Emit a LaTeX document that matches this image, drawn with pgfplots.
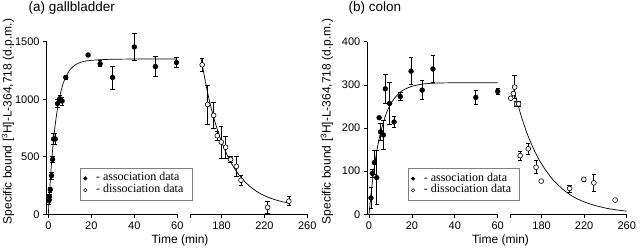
\documentclass[border=0pt]{standalone}
\usepackage{pgfplots}
\pgfplotsset{compat=1.18}
\usepackage{fontspec}
\setmainfont{Liberation Sans}
\newfontfamily\legendfont{Liberation Serif}

\pgfplotsset{
  seg/.style={
    scale only axis, height=172.5pt, clip=false, ymin=0,
    anchor=south west,
    tick align=outside, major tick length=3.5pt,
    tick style={line width=0.8pt, black},
    axis line style={line width=0.8pt, black},
    ticklabel style={font=\fontsize{11}{13}\selectfont},
    /pgf/number format/assume math mode=true,
    /pgf/number format/1000 sep={},
    scaled ticks=false,
  },
  assoc/.style={only marks, mark=*, mark size=2.4pt, black,
    mark options={fill=black, line width=0.5pt},
    error bars/.cd, y dir=both, y explicit,
    error bar style={line width=0.7pt, black},
    error mark options={rotate=90, mark size=2.2pt, line width=0.7pt, black},
    /pgfplots/.cd},
  dissoc/.style={only marks, mark=*, mark size=2.4pt, black,
    mark options={fill=white, draw=black, line width=0.6pt},
    error bars/.cd, y dir=both, y explicit,
    error bar style={line width=0.7pt, black},
    error mark options={rotate=90, mark size=2.2pt, line width=0.7pt, black},
    /pgfplots/.cd},
  fit/.style={no marks, smooth, black, line width=0.7pt},
  leg/.style={
    legend style={draw=gray, line width=0.5pt, font=\legendfont\fontsize{12}{12}\selectfont,
      inner xsep=3.4pt, inner ysep=4.5pt, column sep=9pt, row sep=0pt,
      nodes={inner sep=0pt, text height=8.2pt, text depth=3.5pt},
      cells={anchor=west}},
    legend cell align=left,
    legend image code/.code={\draw[##1] plot coordinates {(0cm,0cm)};},
  },
}

\begin{document}
\begin{tikzpicture}
\path[use as bounding box] (0,0) rectangle (640pt,247pt);

% ---------------- (a) gallbladder ----------------
\begin{axis}[seg, leg, at={(46.6pt,32.7pt)}, width=130.7pt,
  xmin=-0.8, xmax=60, ymax=1500,
  axis x line*=bottom, axis y line*=left,
  xtick={0,20,40,60}, ytick={0,500,1000,1500},
  legend style={at={(0.2556,0.0788)}, anchor=south west}]
\addlegendimage{only marks, mark=*, mark size=1.7pt, fill=black}
\addlegendentry{- association data}
\addlegendimage{only marks, mark=*, mark size=1.7pt, mark options={fill=white, draw=black}}
\addlegendentry{- dissociation data\hspace*{5pt}}
\addplot[forget plot, fit] coordinates {
(0,0) (0.5,170) (1,318) (1.5,448) (2,561) (3,747) (4,888) (5,996) (6,1079)
(7,1142) (8,1190) (10,1255) (12,1292) (14,1314) (16,1327) (18,1335)
(20,1339) (25,1345) (30,1348) (40,1350) (60,1350)};
\addplot[forget plot, assoc] table[x=x, y=y, y error=e] {
x y e
0.3 120 30
0.5 152 25
0.9 215 20
1.5 337 30
2.0 478 25
2.4 655 45
3.2 655 45
4.3 962 35
5.3 1005 30
6.4 985 35
8.1 1190 20
18.5 1385 15
24.1 1310 25
29.9 1190 100
40.0 1455 115
49.8 1285 85
59.6 1320 45
};
\end{axis}

\begin{axis}[seg, at={(190.5pt,32.7pt)}, width=116.8pt,
  xmin=151, xmax=260, ymax=1500,
  axis x line*=bottom, axis y line=none, ytick=\empty,
  xtick={151,180,220,260}, xticklabels={,180,220,260}]
\addplot[fit] coordinates {
(161,1350) (166,1100) (171,899) (176,737) (181,606) (186,500) (191,415)
(196,346) (201,291) (206,246) (211,210) (216,181) (221,158) (226,139)
(231,124) (236,111) (243,98)};
\addplot[dissoc] table[x=x, y=y, y error=e] {
x y e
161.9 1300 55
167.0 955 170
172.6 860 110
176.0 683 40
179.7 628 140
183.8 583 95
188.4 478 25
193.8 417 85
198.1 296 40
223.0 60 50
242.8 114 40
};
\end{axis}

% ---------------- (b) colon ----------------
\begin{axis}[seg, leg, at={(367.3pt,32.7pt)}, width=130.4pt,
  xmin=-0.8, xmax=60, ymax=400,
  axis x line*=bottom, axis y line*=left,
  xtick={0,20,40,60}, ytick={0,100,200,300,400},
  legend style={at={(0.31,0.0773)}, anchor=south west}]
\addlegendimage{only marks, mark=*, mark size=1.7pt, fill=black}
\addlegendentry{- association data}
\addlegendimage{only marks, mark=*, mark size=1.7pt, mark options={fill=white, draw=black}}
\addlegendentry{- dissociation data\hspace*{5pt}}
\addplot[forget plot, fit] coordinates {
(0,0) (1,50) (2,92) (3,127) (4,157) (5,181) (6,201) (8,233) (10,255)
(12,270) (15,285) (18,293) (20,297) (25,302) (30,304) (40,305) (60,305)};
\addplot[forget plot, assoc] table[x=x, y=y, y error=e] {
x y e
0.9 38 25
1.55 95 10
2.5 120 28
3.6 85 63
4.7 224 0
5.4 191 20
6.7 184 34
7.6 291 33
9.6 257 49
11.7 214 12
14.6 273 9
19.6 332 31
24.8 288 22
29.8 337 31
49.8 271 17
60.0 285 7
};
\end{axis}

\begin{axis}[seg, at={(510.7pt,32.7pt)}, width=116pt,
  xmin=151, xmax=260, ymax=400,
  axis x line*=bottom, axis y line=none, ytick=\empty,
  xtick={151,180,220,260}, xticklabels={,180,220,260}]
\addplot[fit] coordinates {
(153,300) (156,270) (161,227) (166,190) (171,160) (176,134) (181,113)
(186,95) (191,79) (201,56) (211,39) (221,28) (231,20) (241,14) (251,10) (260,7.5)};
\addplot[dissoc] table[x=x, y=y, y error=e] {
x y e
151.0 269 0
153.5 280 0
154.7 295 27
156.5 256 6
158.4 256 6
159.9 136 10
167.5 152 12
174.8 109 15
179.7 77 0
206.4 60 8
219.7 81 5
229.1 73 20
249.1 33 0
};
\end{axis}

% titles and axis labels
\node[anchor=base west, font=\fontsize{13.5}{16}\selectfont] at (25pt,235.5pt) {(a) gallbladder};
\node[anchor=base west, font=\fontsize{13.5}{16}\selectfont] at (345pt,235.5pt) {(b) colon};
\node[anchor=base, font=\fontsize{12}{14}\selectfont] at (180pt,4pt) {Time (min)};
\node[anchor=base, font=\fontsize{12}{14}\selectfont] at (500.5pt,4pt) {Time (min)};
\node[rotate=90, font=\fontsize{12}{14}\selectfont] at (8pt,125.5pt) {Specific bound [\textsuperscript{3}H]-L-364,718 (d.p.m.)};
\node[rotate=90, font=\fontsize{12}{14}\selectfont] at (327pt,125.5pt) {Specific bound [\textsuperscript{3}H]-L-364,718 (d.p.m.)};
\end{tikzpicture}
\end{document}
